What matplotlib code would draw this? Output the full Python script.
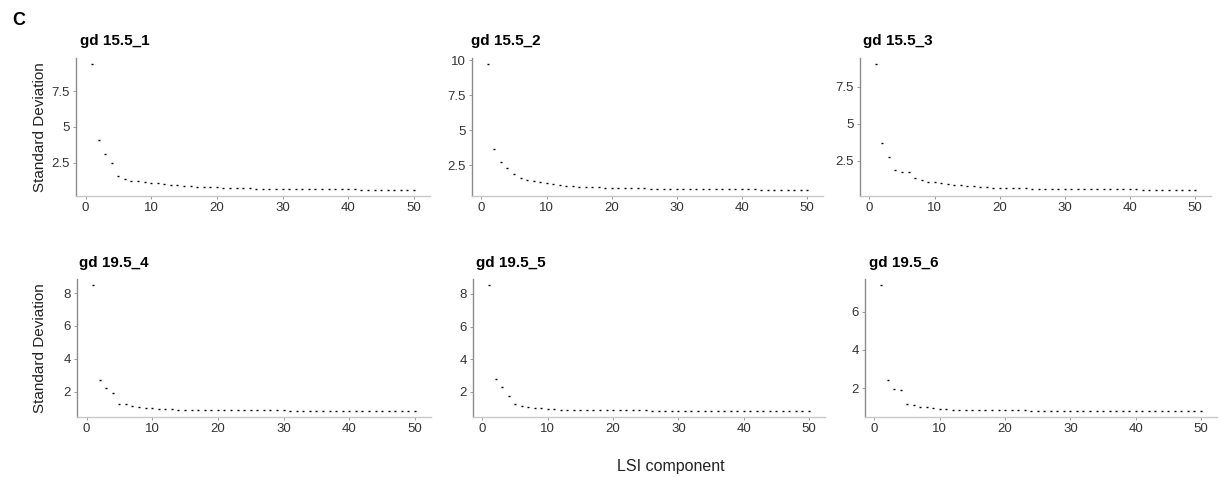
import matplotlib
matplotlib.use("Agg")
import matplotlib.pyplot as plt
import matplotlib.ticker as mtick
import numpy as np

plt.rcParams['font.family'] = ['Liberation Sans', 'DejaVu Sans']

components = list(range(1, 51))

sd_15_5_1 = [9.37, 4.05, 3.08, 2.50, 1.57, 1.34, 1.24, 1.19, 1.14, 1.10,
             1.05, 1.00, 0.96, 0.91, 0.87, 0.85, 0.82, 0.80, 0.78, 0.76,
             0.75, 0.73, 0.72, 0.70, 0.69, 0.68, 0.67, 0.66, 0.66, 0.65,
             0.65, 0.64, 0.64, 0.64, 0.63, 0.63, 0.63, 0.62, 0.62, 0.62,
             0.62, 0.61, 0.61, 0.61, 0.61, 0.60, 0.60, 0.60, 0.60, 0.60]
sd_15_5_2 = [9.70, 3.68, 2.73, 2.30, 1.87, 1.56, 1.46, 1.38, 1.30, 1.20,
             1.14, 1.09, 1.05, 1.01, 0.98, 0.96, 0.94, 0.92, 0.90, 0.89,
             0.88, 0.87, 0.86, 0.85, 0.84, 0.83, 0.82, 0.82, 0.81, 0.80,
             0.80, 0.80, 0.79, 0.79, 0.79, 0.78, 0.78, 0.78, 0.77, 0.77,
             0.77, 0.77, 0.76, 0.76, 0.76, 0.76, 0.75, 0.75, 0.75, 0.75]
sd_15_5_3 = [9.02, 3.73, 2.75, 1.90, 1.75, 1.72, 1.30, 1.17, 1.09, 1.03,
             0.98, 0.93, 0.88, 0.83, 0.79, 0.76, 0.73, 0.71, 0.69, 0.67,
             0.66, 0.65, 0.64, 0.63, 0.62, 0.61, 0.60, 0.60, 0.59, 0.58,
             0.58, 0.58, 0.57, 0.57, 0.57, 0.57, 0.56, 0.56, 0.56, 0.56,
             0.56, 0.55, 0.55, 0.55, 0.55, 0.55, 0.54, 0.54, 0.54, 0.54]
sd_19_5_4 = [8.48, 2.69, 2.22, 1.92, 1.23, 1.21, 1.12, 1.05, 1.00, 0.97,
             0.95, 0.93, 0.91, 0.90, 0.89, 0.88, 0.88, 0.87, 0.87, 0.87,
             0.86, 0.86, 0.86, 0.86, 0.85, 0.85, 0.85, 0.85, 0.85, 0.85,
             0.84, 0.84, 0.84, 0.84, 0.84, 0.84, 0.84, 0.84, 0.84, 0.84,
             0.83, 0.83, 0.83, 0.83, 0.83, 0.83, 0.83, 0.83, 0.83, 0.83]
sd_19_5_5 = [8.53, 2.77, 2.28, 1.75, 1.29, 1.15, 1.08, 1.03, 0.99, 0.95,
             0.93, 0.92, 0.91, 0.90, 0.90, 0.89, 0.89, 0.88, 0.88, 0.88,
             0.87, 0.87, 0.87, 0.87, 0.87, 0.86, 0.86, 0.86, 0.86, 0.86,
             0.86, 0.86, 0.86, 0.85, 0.85, 0.85, 0.85, 0.85, 0.85, 0.85,
             0.85, 0.85, 0.85, 0.85, 0.85, 0.85, 0.85, 0.85, 0.85, 0.85]
sd_19_5_6 = [7.37, 2.45, 1.96, 1.88, 1.16, 1.10, 1.04, 0.99, 0.95, 0.91,
             0.89, 0.88, 0.87, 0.86, 0.86, 0.85, 0.85, 0.85, 0.84, 0.84,
             0.84, 0.84, 0.84, 0.83, 0.83, 0.83, 0.83, 0.83, 0.83, 0.83,
             0.83, 0.83, 0.83, 0.83, 0.83, 0.82, 0.82, 0.82, 0.82, 0.82,
             0.82, 0.82, 0.82, 0.82, 0.82, 0.82, 0.82, 0.82, 0.82, 0.82]

titles = ['gd 15.5_1', 'gd 15.5_2', 'gd 15.5_3', 'gd 19.5_4', 'gd 19.5_5', 'gd 19.5_6']
series = [sd_15_5_1, sd_15_5_2, sd_15_5_3, sd_19_5_4, sd_19_5_5, sd_19_5_6]
y_ticks = [[2.5, 5, 7.5], [2.5, 5, 7.5, 10], [2.5, 5, 7.5],
           [2, 4, 6, 8], [2, 4, 6, 8], [2, 4, 6]]
x_ticks = [0, 10, 20, 30, 40, 50]

W, H = 1221, 478
fig = plt.figure(figsize=(W / 100, H / 100), dpi=100)

# panel boxes in pixels: left, right, top, bottom
boxes = [(76, 430, 58, 196), (472, 823, 58, 196), (860, 1211, 58, 196),
         (77, 431, 279, 417), (473, 825, 279, 417), (865, 1217, 279, 417)]
title_x = [80, 471, 863, 79, 476, 869]

for i, (vals, name) in enumerate(zip(series, titles)):
    l, r, t, b = boxes[i]
    ax = fig.add_axes([l / W, 1 - b / H, (r - l) / W, (b - t) / H])
    ax.plot(components, vals, ls='none', marker='_', ms=2.0, mew=1.0, color='black')
    lo, hi = min(vals), max(vals)
    pad = 0.05 * (hi - lo)
    ax.set_ylim(lo - pad, hi + pad)
    ax.set_xlim(1 - 0.05 * 49, 50 + 0.05 * 49)
    ax.set_xticks(x_ticks)
    ax.set_yticks(y_ticks[i])
    ax.yaxis.set_major_formatter(mtick.FuncFormatter(lambda v, p: f'{v:g}'))
    for s in ['top', 'right']:
        ax.spines[s].set_visible(False)
    ax.spines['left'].set_color('#8c8c8c')
    ax.spines['bottom'].set_color('#c8c8c8')
    ax.spines['left'].set_linewidth(1.0)
    ax.spines['bottom'].set_linewidth(1.0)
    ax.tick_params(length=2.5, width=0.6, color='#8c8c8c', labelsize=9.5,
                   labelcolor='#333333', pad=2)
    ax.patch.set_alpha(0)
    ty = (t - 13) / H if i < 3 else (t - 12) / H
    fig.text(title_x[i] / W, 1 - ty, name, fontsize=11, fontweight='bold',
             ha='left', va='baseline')

fig.text(40 / W, 1 - 127 / H, 'Standard Deviation', rotation=90, fontsize=11,
         ha='center', va='center', color='#222222')
fig.text(40 / W, 1 - 348 / H, 'Standard Deviation', rotation=90, fontsize=11,
         ha='center', va='center', color='#222222')
fig.text(671 / W, 1 - 467 / H, 'LSI component', fontsize=11.5, ha='center',
         va='center', color='#222222')
fig.text(12 / W, 1 - 25 / H, 'C', fontsize=13, fontweight='bold', ha='left',
         va='baseline')

fig.savefig('out.png', dpi=100)
